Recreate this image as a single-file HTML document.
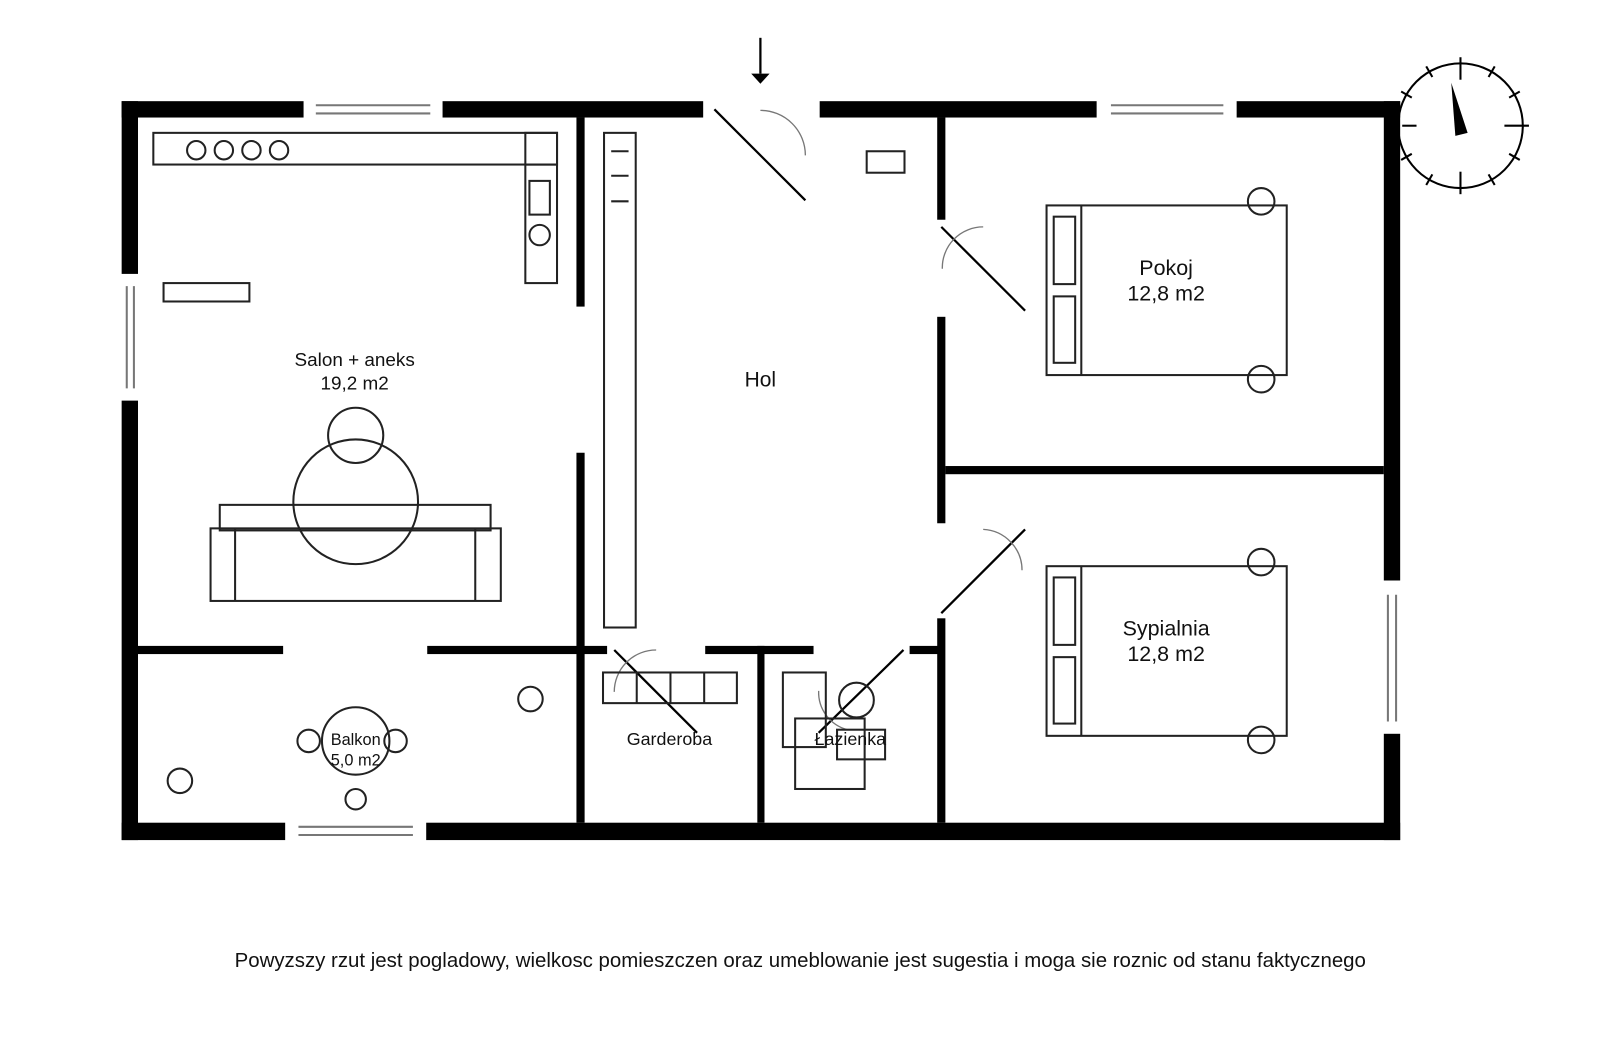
<!DOCTYPE html>
<html><head><meta charset="utf-8"><style>html,body{margin:0;padding:0;background:#fff;}svg{display:block}</style></head>
<body>
<svg width="1600" height="1050" viewBox="0 0 1565.5 1027.4" xmlns="http://www.w3.org/2000/svg" font-family="Liberation Sans, sans-serif">
<rect x="0" y="0" width="1565.5" height="1027.4" fill="#fff"/>
<g fill="#000">
<rect x="119" y="99" width="178" height="16"/>
<rect x="433" y="99" width="255" height="16"/>
<rect x="802" y="99" width="271" height="16"/>
<rect x="1210" y="99" width="160" height="16"/>
<rect x="119" y="99" width="16" height="169"/>
<rect x="119" y="392" width="16" height="430"/>
<rect x="119" y="805" width="160" height="17"/>
<rect x="417" y="805" width="953" height="17"/>
<rect x="1354" y="99" width="16" height="469"/>
<rect x="1354" y="718" width="16" height="104"/>
<rect x="564" y="115" width="8" height="185"/>
<rect x="564" y="443" width="8" height="362"/>
<rect x="135" y="632" width="142" height="8"/>
<rect x="418" y="632" width="176" height="8"/>
<rect x="690" y="632" width="106" height="8"/>
<rect x="890" y="632" width="30" height="8"/>
<rect x="741" y="632" width="7" height="173"/>
<rect x="917" y="115" width="8" height="100"/>
<rect x="917" y="310" width="8" height="202"/>
<rect x="917" y="605" width="8" height="200"/>
<rect x="925" y="456" width="429" height="8"/>
</g>
<g stroke="#777" stroke-width="2">
<line x1="309" y1="103" x2="421" y2="103"/><line x1="309" y1="111" x2="421" y2="111"/>
<line x1="1087" y1="103" x2="1197" y2="103"/><line x1="1087" y1="111" x2="1197" y2="111"/>
<line x1="124" y1="280" x2="124" y2="380"/><line x1="131" y1="280" x2="131" y2="380"/>
<line x1="292" y1="809" x2="404" y2="809"/><line x1="292" y1="817" x2="404" y2="817"/>
<line x1="1358" y1="582" x2="1358" y2="706"/><line x1="1366" y1="582" x2="1366" y2="706"/>
</g>
<g stroke="#000" stroke-width="2.2" fill="none">
<line x1="699" y1="107" x2="788" y2="196"/>
<line x1="921" y1="222" x2="1003" y2="304"/>
<line x1="921" y1="600" x2="1003" y2="518"/>
<line x1="601" y1="636" x2="682" y2="717"/>
<line x1="884" y1="636" x2="801" y2="717"/>
<line x1="744" y1="37" x2="744" y2="72"/>
</g>
<polygon points="735,72 753,72 744,82" fill="#000"/>
<g stroke="#777" stroke-width="1.3" fill="none">
<path d="M744,108 A44,44 0 0 1 788,152"/>
<path d="M922,263 A40,40 0 0 1 962,222"/>
<path d="M962,518 A40,40 0 0 1 1000,558"/>
<path d="M601,677 A41,41 0 0 1 642,636"/>
<path d="M801,676 A38,38 0 0 0 829,714"/>
</g>
<g stroke="#222" stroke-width="2" fill="none">
<rect x="150" y="130" width="395" height="31"/>
<circle cx="192" cy="147" r="9"/><circle cx="219" cy="147" r="9"/><circle cx="246" cy="147" r="9"/><circle cx="273" cy="147" r="9"/>
<rect x="514" y="130" width="31" height="147"/>
<line x1="514" y1="161" x2="545" y2="161"/>
<rect x="518" y="177" width="20" height="33"/>
<circle cx="528" cy="230" r="10"/>
<rect x="160" y="277" width="84" height="18"/>
<rect x="591" y="130" width="31" height="484"/>
<line x1="598" y1="148" x2="615" y2="148"/><line x1="598" y1="172" x2="615" y2="172"/><line x1="598" y1="197" x2="615" y2="197"/>
<rect x="848" y="148" width="37" height="21"/>
<circle cx="348" cy="426" r="27"/>
<circle cx="348" cy="491" r="61"/>
<rect x="215" y="494" width="265" height="25"/>
<rect x="206" y="517" width="284" height="71"/>
<line x1="230" y1="517" x2="230" y2="588"/><line x1="465" y1="517" x2="465" y2="588"/>
<circle cx="348" cy="725" r="33"/>
<circle cx="302" cy="725" r="11"/><circle cx="387" cy="725" r="11"/><circle cx="348" cy="782" r="10"/>
<circle cx="176" cy="764" r="12"/><circle cx="519" cy="684" r="12"/>
<rect x="590" y="658" width="131" height="30"/>
<line x1="623" y1="658" x2="623" y2="688"/><line x1="656" y1="658" x2="656" y2="688"/><line x1="689" y1="658" x2="689" y2="688"/>
<rect x="766" y="658" width="42" height="73"/>
<rect x="778" y="703" width="68" height="69"/>
<rect x="819" y="714" width="47" height="29"/>
<circle cx="838" cy="685" r="17"/>
<rect x="1024" y="201" width="235" height="166"/>
<line x1="1058" y1="201" x2="1058" y2="367"/>
<rect x="1031" y="212" width="21" height="66"/><rect x="1031" y="290" width="21" height="65"/>
<circle cx="1234" cy="197" r="13"/><circle cx="1234" cy="371" r="13"/>
<rect x="1024" y="554" width="235" height="166"/>
<line x1="1058" y1="554" x2="1058" y2="720"/>
<rect x="1031" y="565" width="21" height="66"/><rect x="1031" y="643" width="21" height="65"/>
<circle cx="1234" cy="550" r="13"/><circle cx="1234" cy="724" r="13"/>
</g>
<g stroke="#000" stroke-width="2" fill="none">
<circle cx="1429" cy="123" r="61"/>
<line x1="1429" y1="56" x2="1429" y2="78"/><line x1="1429" y1="168" x2="1429" y2="190"/>
<line x1="1372" y1="123" x2="1386" y2="123"/><line x1="1472" y1="123" x2="1496" y2="123"/>
<g transform="translate(1429,123)">
<line x1="0" y1="-55" x2="0" y2="-67" transform="rotate(30)"/><line x1="0" y1="-55" x2="0" y2="-67" transform="rotate(60)"/>
<line x1="0" y1="-55" x2="0" y2="-67" transform="rotate(120)"/><line x1="0" y1="-55" x2="0" y2="-67" transform="rotate(150)"/>
<line x1="0" y1="-55" x2="0" y2="-67" transform="rotate(210)"/><line x1="0" y1="-55" x2="0" y2="-67" transform="rotate(240)"/>
<line x1="0" y1="-55" x2="0" y2="-67" transform="rotate(300)"/><line x1="0" y1="-55" x2="0" y2="-67" transform="rotate(330)"/>
</g>
</g>
<polygon points="1420,81 1424,133 1436,130" fill="#000"/>
<g fill="#111" text-anchor="middle">
<text x="347" y="358" font-size="18.5">Salon + aneks</text>
<text x="347" y="381" font-size="18.5">19,2 m2</text>
<text x="744" y="378" font-size="20.5">Hol</text>
<text x="1141" y="269" font-size="21">Pokoj</text>
<text x="1141" y="294" font-size="21">12,8 m2</text>
<text x="1141" y="622" font-size="21">Sypialnia</text>
<text x="1141" y="647" font-size="21">12,8 m2</text>
<text x="348" y="729" font-size="16">Balkon</text>
<text x="348" y="749" font-size="16">5,0 m2</text>
<text x="655" y="729" font-size="17.5">Garderoba</text>
<text x="832" y="729" font-size="17.5">Łazienka</text>
<text x="783" y="946" font-size="20">Powyzszy rzut jest pogladowy, wielkosc pomieszczen oraz umeblowanie jest sugestia i moga sie roznic od stanu faktycznego</text>
</g>
</svg>
</body></html>
